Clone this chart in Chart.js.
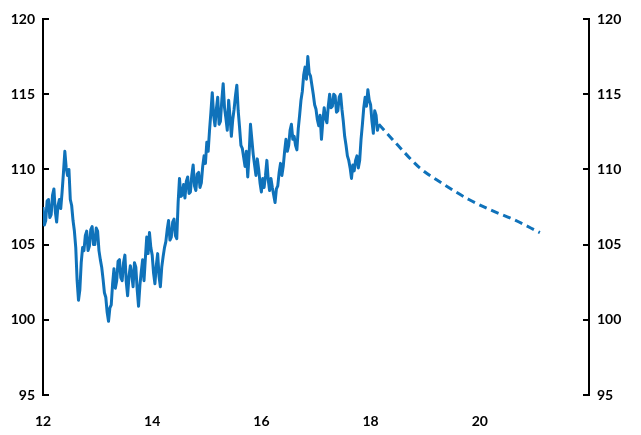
<!DOCTYPE html>
<html>
<head>
<meta charset="utf-8">
<script src="https://cdn.jsdelivr.net/npm/chart.js@4/dist/chart.umd.min.js"></script>
<style>
  body { margin: 0; background: #fff; }
</style>
</head>
<body>
<canvas id="c" width="641" height="435"></canvas>
<script>
// observed index, one value every 0.025 from 12.000 to 18.150 (one row per half unit)
var histStart = 12;
var histStep = 0.025;
var histValues = [
  107.5, 106.3, 106.6, 107.9, 108.0, 106.8, 107.0, 108.3, 108.7, 107.2, 106.5, 107.6, 108.0, 107.4, 108.5, 109.8, 111.2, 110.1, 109.6, 110.0,
  108.0, 107.6, 106.6, 105.9, 104.8, 102.6, 101.3, 102.0, 103.8, 104.8, 104.6, 105.6, 105.9, 104.6, 104.9, 106.0, 106.2, 105.0, 105.0, 106.1,
  105.9, 104.6, 104.0, 103.5, 102.7, 101.8, 101.5, 100.5, 99.9, 100.8, 101.0, 102.4, 103.4, 102.1, 102.6, 103.9, 104.0, 102.8, 102.6, 103.8,
  104.3, 102.5, 101.6, 102.9, 103.6, 103.0, 102.2, 103.8, 103.5, 102.0, 100.9, 102.3, 103.2, 104.0, 102.6, 104.1, 105.5, 104.4, 105.8, 104.8,
  104.3, 103.1, 102.4, 103.6, 104.4, 102.9, 102.2, 103.5, 104.2, 104.8, 105.2, 106.0, 106.6, 105.3, 105.5, 106.5, 106.7, 105.6, 105.4, 107.8,
  109.4, 108.2, 108.3, 109.0, 108.1, 109.2, 109.5, 108.4, 108.5, 109.6, 110.3, 108.9, 108.6, 109.7, 109.8, 108.8, 109.1, 110.2, 110.9, 110.4,
  111.8, 111.2, 112.6, 113.8, 115.1, 113.6, 112.9, 114.0, 114.8, 113.0, 113.2, 114.6, 115.7, 114.1, 113.4, 112.6, 114.6, 113.5, 112.2, 113.3,
  114.0, 114.9, 115.6, 113.9, 112.8, 111.6, 111.4, 110.8, 110.2, 111.2, 109.5, 111.0, 113.0, 112.0, 111.0, 110.3, 109.6, 110.7, 110.0, 109.1,
  108.5, 109.4, 108.8, 109.6, 110.6, 109.3, 108.6, 109.4, 108.8, 108.3, 107.8, 108.7, 108.9, 109.8, 110.4, 109.6, 110.2, 111.2, 112.0, 111.2,
  111.6, 112.6, 113.0, 112.0, 112.2, 111.6, 111.3, 112.7, 113.6, 114.6, 115.2, 116.3, 116.8, 116.0, 117.5, 116.4, 116.2, 115.6, 115.0, 114.3,
  114.0, 113.3, 112.9, 113.6, 112.0, 113.2, 114.1, 113.4, 113.1, 114.2, 115.0, 114.1, 114.2, 115.0, 114.9, 113.8, 113.9, 114.8, 115.0, 114.0,
  113.2, 112.2, 111.6, 110.9, 110.6, 110.1, 109.4, 110.3, 109.9, 110.6, 110.9, 110.1, 110.6, 112.0, 113.0, 114.1, 114.8, 114.2, 115.3, 114.6,
  114.3, 113.2, 112.4, 113.9, 113.6, 112.6, 113.0
];

// projection (dashed)
var projX = [18.15, 18.5, 18.9, 19.3, 19.8, 20.2, 20.6, 21.1];
var projY = [113.0, 111.6, 110.1, 109.1, 108.0, 107.3, 106.7, 105.8];

var xTicks = [12, 14, 16, 18, 20];
var yTicks = [95, 100, 105, 110, 115, 120];

var blue = '#0f72ba';

var histPoints = histValues.map(function (v, i) {
    return { x: histStart + i * histStep, y: v };
});
var projPoints = projX.map(function (x, i) {
    return { x: x, y: projY[i] };
});

// small inward tick marks on both value axes
var innerTicks = {
    id: 'innerTicks',
    afterDraw: function (chart) {
        var ctx = chart.ctx;
        var area = chart.chartArea;
        ctx.save();
        ctx.strokeStyle = '#000';
        ctx.lineWidth = 2;
        ['y', 'y2'].forEach(function (id) {
            var s = chart.scales[id];
            yTicks.forEach(function (t) {
                var p = Math.round(s.getPixelForValue(t));
                ctx.beginPath();
                if (id === 'y') {
                    ctx.moveTo(area.left, p);
                    ctx.lineTo(area.left + 6, p);
                } else {
                    ctx.moveTo(area.right - 6, p);
                    ctx.lineTo(area.right, p);
                }
                ctx.stroke();
            });
        });
        ctx.restore();
    }
};

var tickFont = { family: 'Lato', size: 14, weight: 'bold' };

new Chart(document.getElementById('c').getContext('2d'), {
    type: 'line',
    data: {
        datasets: [{
            data: histPoints,
            borderColor: blue,
            borderWidth: 3,
            borderJoinStyle: 'round',
            pointRadius: 0,
            tension: 0,
            fill: false
        }, {
            data: projPoints,
            borderColor: blue,
            borderWidth: 3,
            borderDash: [8, 5],
            pointRadius: 0,
            cubicInterpolationMode: 'monotone',
            fill: false
        }]
    },
    options: {
        responsive: false,
        animation: false,
        layout: { padding: { top: 19, left: 0, right: 0, bottom: 0 } },
        plugins: { legend: { display: false }, tooltip: { enabled: false } },
        scales: {
            x: {
                type: 'linear',
                min: 12,
                max: 22,
                afterBuildTicks: function (s) {
                    s.ticks = xTicks.map(function (v) { return { value: v }; });
                },
                afterFit: function (s) { s.height = 40; },
                grid: { display: false },
                border: { display: false },
                ticks: { color: '#000', font: tickFont, padding: 10, maxRotation: 0 }
            },
            y: {
                position: 'left',
                min: 95,
                max: 120,
                afterBuildTicks: function (s) {
                    s.ticks = yTicks.map(function (v) { return { value: v }; });
                },
                afterFit: function (s) { s.width = 43; },
                grid: { display: false, drawTicks: false },
                border: { display: true, color: '#000', width: 2 },
                ticks: { color: '#000', font: tickFont, padding: 8 }
            },
            y2: {
                position: 'right',
                min: 95,
                max: 120,
                afterBuildTicks: function (s) {
                    s.ticks = yTicks.map(function (v) { return { value: v }; });
                },
                afterFit: function (s) { s.width = 52; },
                grid: { display: false, drawTicks: false },
                border: { display: true, color: '#000', width: 2 },
                ticks: { color: '#000', font: tickFont, padding: 8 }
            }
        }
    },
    plugins: [innerTicks]
});
</script>
</body>
</html>
